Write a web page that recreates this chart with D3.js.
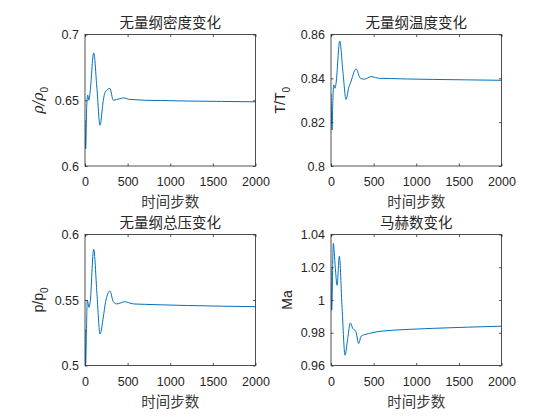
<!DOCTYPE html>
<html>
<head>
<meta charset="utf-8">
<script src="https://cdn.jsdelivr.net/npm/d3@7"></script>
<style>
  body { margin: 0; background: #fff; }
  svg { display: block; }
  .tick text { font-family: "Liberation Sans", Arial, sans-serif; font-size: 12.5px; fill: #262626; }
  .tick line { stroke: #262626; stroke-width: 0.8; }
</style>
</head>
<body>
<div id="chart"></div>
<script>
// time steps and values, one pair of arrays per panel
const densitySteps = [0, 8, 20, 32, 45, 58, 102, 140, 176, 215, 235, 292, 332, 371, 410, 451, 490, 529, 600, 700, 882, 1200, 1600, 2000];
const densityValues = [0.635, 0.613, 0.645, 0.654, 0.650, 0.655, 0.686, 0.659, 0.631, 0.650, 0.656, 0.659, 0.650, 0.6506, 0.6512, 0.6518, 0.6512, 0.6506, 0.6504, 0.6500, 0.6498, 0.6494, 0.6491, 0.6488];

const tempSteps = [0, 12, 22, 32, 47, 60, 102, 140, 176, 210, 227, 294, 345, 393, 430, 471, 520, 570, 700, 900, 1200, 1600, 2000];
const tempValues = [0.833, 0.8164, 0.830, 0.837, 0.8355, 0.838, 0.857, 0.843, 0.8304, 0.836, 0.8377, 0.8443, 0.840, 0.8396, 0.8402, 0.8408, 0.8404, 0.840, 0.8399, 0.8397, 0.8395, 0.8393, 0.8391];

const pressSteps = [0, 8, 18, 27, 47, 60, 102, 140, 176, 215, 240, 292, 332, 371, 420, 462, 510, 570, 700, 900, 1200, 1600, 2000];
const pressValues = [0.528, 0.5015, 0.530, 0.550, 0.5444, 0.548, 0.5888, 0.555, 0.524, 0.537, 0.548, 0.5569, 0.5487, 0.547, 0.5478, 0.5487, 0.548, 0.547, 0.5467, 0.5463, 0.5458, 0.5453, 0.5449];

const machSteps = [0, 8, 27, 50, 71, 98, 130, 165, 196, 227, 255, 290, 325, 353, 412, 470, 529, 600, 882, 1200, 1600, 2000];
const machValues = [1.019, 0.9938, 1.0345, 1.020, 1.009, 1.0267, 0.995, 0.9663, 0.9765, 0.986, 0.9826, 0.981, 0.9734, 0.9779, 0.9791, 0.9798, 0.9805, 0.981, 0.982, 0.9827, 0.9834, 0.984];

const xTicks = [0, 500, 1000, 1500, 2000];
const titles = ['无量纲密度变化', '无量纲温度变化', '无量纲总压变化', '马赫数变化'];
const xLabel = '时间步数';

const width = 560;
const height = 420;
const tickLen = 2.5;

const panels = [
  { steps: densitySteps, values: densityValues, title: titles[0], yDomain: [0.6, 0.7], yTicks: [0.6, 0.65, 0.7],
    box: { left: 85, top: 34.5, w: 170.5, h: 131.5 }, yLab: { x: 43, main: 'ρ/ρ', sub: '0', greek: true } },
  { steps: tempSteps, values: tempValues, title: titles[1], yDomain: [0.8, 0.86], yTicks: [0.8, 0.82, 0.84, 0.86],
    box: { left: 331, top: 34.5, w: 170.5, h: 131.5 }, yLab: { x: 285, main: 'T/T', sub: '0' } },
  { steps: pressSteps, values: pressValues, title: titles[2], yDomain: [0.5, 0.6], yTicks: [0.5, 0.55, 0.6],
    box: { left: 85, top: 234.5, w: 170.5, h: 131 }, yLab: { x: 43, main: 'p/p', sub: '0' } },
  { steps: machSteps, values: machValues, title: titles[3], yDomain: [0.96, 1.04], yTicks: [0.96, 0.98, 1, 1.02, 1.04],
    box: { left: 331, top: 234.5, w: 170.5, h: 131 }, yLab: { x: 292, main: 'Ma' } }
];

const svg = d3.select('#chart').append('svg')
  .attr('width', width)
  .attr('height', height);

svg.append('rect').attr('width', width).attr('height', height).attr('fill', '#fff');

panels.forEach((p) => {
  const b = p.box;
  const x = d3.scaleLinear().domain([0, 2000]).range([0, b.w]);
  const y = d3.scaleLinear().domain(p.yDomain).range([b.h, 0]);
  const g = svg.append('g').attr('transform', `translate(${b.left},${b.top})`);

  // line, clipped to the axes box like matlab does
  const clipId = `clip-${b.left}-${Math.round(b.top)}`;
  g.append('clipPath').attr('id', clipId)
    .append('rect').attr('width', b.w).attr('height', b.h);

  const line = d3.line()
    .x((d, i) => x(p.steps[i]))
    .y(d => y(d))
    .curve(d3.curveMonotoneX);

  g.append('path')
    .datum(p.values)
    .attr('clip-path', `url(#${clipId})`)
    .attr('fill', 'none')
    .attr('stroke', '#0072BD')
    .attr('stroke-width', 1)
    .attr('d', line);

  // axes, ticks pointing inward on all four sides
  g.append('g').attr('transform', `translate(0,${b.h})`)
    .call(d3.axisBottom(x).tickValues(xTicks).tickSize(-tickLen).tickSizeOuter(0).tickPadding(11.5).tickFormat(d3.format('d')))
    .call(a => a.select('.domain').remove());
  g.append('g')
    .call(d3.axisTop(x).tickValues(xTicks).tickSize(-tickLen).tickSizeOuter(0).tickFormat(''))
    .call(a => a.select('.domain').remove());
  g.append('g')
    .call(d3.axisLeft(y).tickValues(p.yTicks).tickSize(-tickLen).tickSizeOuter(0).tickPadding(6).tickFormat(d => String(+d.toFixed(3))))
    .call(a => a.select('.domain').remove());
  g.append('g').attr('transform', `translate(${b.w},0)`)
    .call(d3.axisRight(y).tickValues(p.yTicks).tickSize(-tickLen).tickSizeOuter(0).tickFormat(''))
    .call(a => a.select('.domain').remove());

  g.append('rect')
    .attr('width', b.w).attr('height', b.h)
    .attr('fill', 'none')
    .attr('stroke', '#262626')
    .attr('stroke-width', 0.8);

  // title
  svg.append('text')
    .attr('x', b.left + b.w / 2)
    .attr('y', b.top - 6.5)
    .attr('text-anchor', 'middle')
    .attr('font-family', '"Noto Sans CJK SC", sans-serif')
    .attr('font-size', 14.5)
    .attr('fill', '#262626')
    .text(p.title);

  // x label
  svg.append('text')
    .attr('x', b.left + b.w / 2)
    .attr('y', b.top + b.h + 41)
    .attr('text-anchor', 'middle')
    .attr('font-family', '"Noto Sans CJK SC", sans-serif')
    .attr('font-size', 14.5)
    .attr('fill', '#3a3a3a')
    .text(xLabel);

  // y label
  const yl = svg.append('text')
    .attr('transform', `translate(${p.yLab.x},${b.top + b.h / 2}) rotate(-90)`)
    .attr('text-anchor', 'middle')
    .attr('font-family', '"Liberation Sans", Arial, sans-serif')
    .attr('font-size', 14)
    .attr('fill', '#262626');
  yl.append('tspan')
    .attr('font-family', p.yLab.greek ? '"DejaVu Serif", serif' : null)
    .attr('font-style', p.yLab.greek ? 'italic' : null)
    .text(p.yLab.main);
  if (p.yLab.sub) {
    yl.append('tspan')
      .attr('dy', 5)
      .attr('font-size', 10)
      .text(p.yLab.sub);
  }
});
</script>
</body>
</html>
